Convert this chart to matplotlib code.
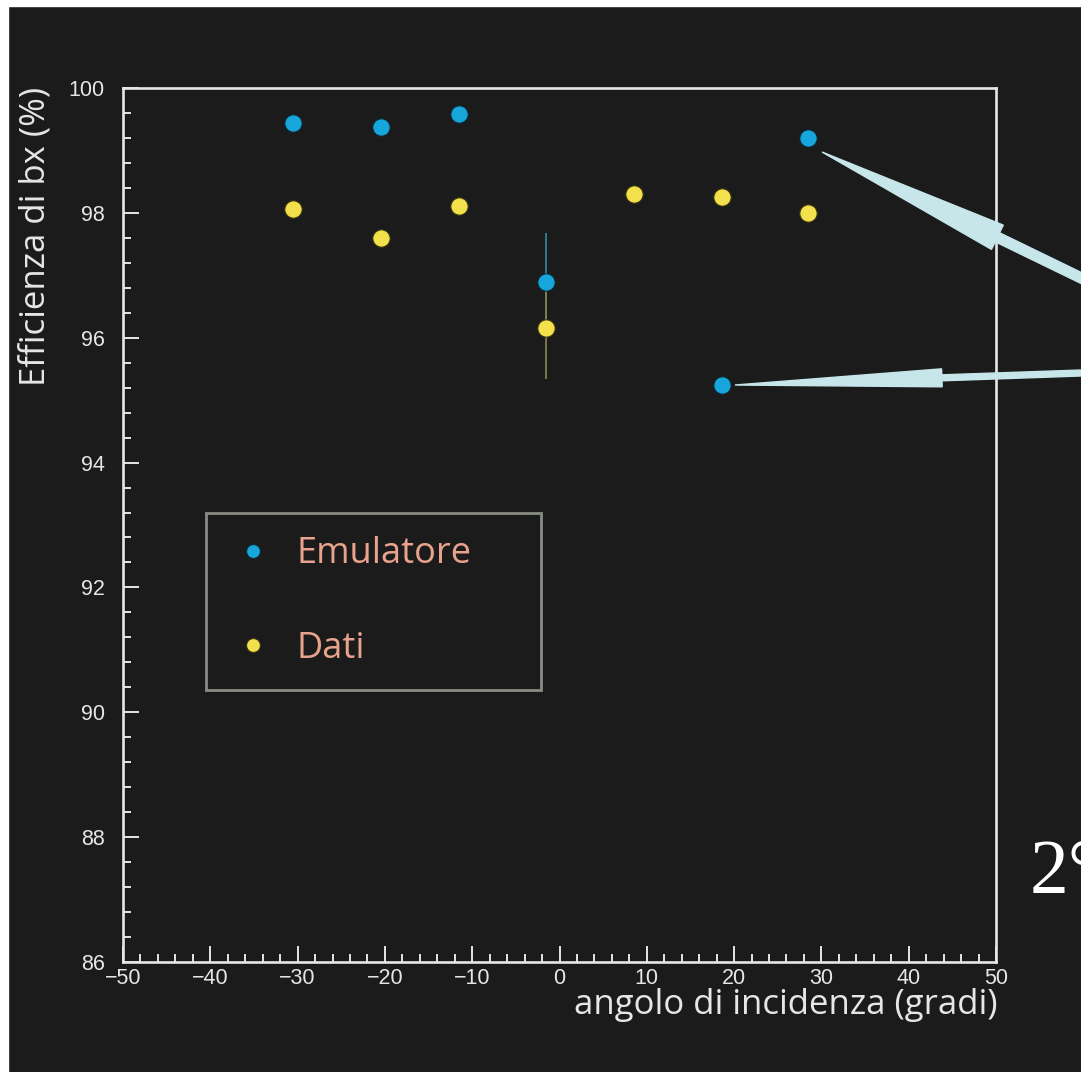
import numpy as np
import matplotlib
matplotlib.use("Agg")
from matplotlib import pyplot as plt
from matplotlib.patches import FancyArrow, Rectangle
from matplotlib.transforms import IdentityTransform
from matplotlib.ticker import MultipleLocator

W, H = 1081, 1072
BG = '#1b1b1b'

# data
ang_emu = [-30.5, -20.5, -11.5, -1.5, 18.6, 28.5]
eff_emu = [99.44, 99.37, 99.58, 96.90, 95.25, 99.20]
err_emu = [0.0, 0.0, 0.0, 0.78, 0.0, 0.0]

ang_dati = [-30.5, -20.5, -11.5, -1.5, 8.5, 18.6, 28.5]
eff_dati = [98.06, 97.59, 98.11, 96.16, 98.30, 98.25, 97.99]
err_dati = [0.0, 0.0, 0.0, 0.82, 0.0, 0.0, 0.0]

xticks = [-50, -40, -30, -20, -10, 0, 10, 20, 30, 40, 50]
yticks = [86, 88, 90, 92, 94, 96, 98, 100]

fig = plt.figure(figsize=(W / 100, H / 100), dpi=100, facecolor=BG)
ax = fig.add_axes([123 / W, 1 - 962 / H, (996 - 123) / W, (962 - 88) / H])
ax.set_facecolor(BG)

ax.set_xlim(-50, 50)
ax.set_ylim(86, 100)
ax.set_xticks(xticks)
ax.set_yticks(yticks)
ax.xaxis.set_minor_locator(MultipleLocator(2))
ax.yaxis.set_minor_locator(MultipleLocator(0.4))

for s in ax.spines.values():
    s.set_color('#e6e6e6')
    s.set_linewidth(1.9)

tickfont = 'Liberation Sans'
ax.tick_params(which='both', direction='in', colors='#e6e6e6', top=False, right=False)
ax.tick_params(which='major', length=11.5, width=1.4, labelsize=15.5)
ax.tick_params(which='minor', length=6, width=1.4)
ax.tick_params(axis='y', which='major', pad=13)
ax.tick_params(axis='x', which='major', pad=4)
for lab in ax.get_xticklabels() + ax.get_yticklabels():
    lab.set_fontfamily(tickfont)
    lab.set_color('#e6e6e6')

# error bars (only the point near 0 has visible ones)
ax.errorbar(ang_emu, eff_emu, yerr=err_emu, fmt='none', ecolor='#2f8294', elinewidth=1.3, zorder=2)
ax.errorbar(ang_dati, eff_dati, yerr=err_dati, fmt='none', ecolor='#7f7f4a', elinewidth=1.3, zorder=2)

ax.plot(ang_emu, eff_emu, 'o', color='#17a6dc', markersize=12.5,
        markeredgecolor='#0d2a35', markeredgewidth=0.8, label='Emulatore', zorder=3)
ax.plot(ang_dati, eff_dati, 'o', color='#f2e04c', markersize=12.5,
        markeredgecolor='#3a3510', markeredgewidth=0.8, label='Dati', zorder=3)

leg = ax.legend(loc='upper left',
                bbox_to_anchor=((206 - 123) / 873, (962 - 513) / 874, (541 - 206) / 873, 0.0),
                mode='expand', frameon=True, fancybox=False, facecolor=BG,
                edgecolor='#a3ab9e', markerscale=0.8, handlelength=1.3,
                handletextpad=0.55, labelspacing=1.62, borderpad=0.65, borderaxespad=0,
                prop={'family': 'Open Sans', 'size': 26})
leg.get_frame().set_linewidth(2.0)
for t in leg.get_texts():
    t.set_color('#e9a28c')

# axis titles
fig.text(36 / W, 1 - 87 / H, 'Efficienza di bx (%)', rotation=90, ha='center', va='top',
         color='#e6e6e6', fontsize=25, family='Open Sans')
fig.text(997 / W, 1 - 1005 / H, 'angolo di incidenza (gradi)', ha='right', va='center',
         color='#e6e6e6', fontsize=25, family='Open Sans')

# callout arrows on the slide
arrow_col = '#c6e6ea'
tr = IdentityTransform()
a1 = FancyArrow(1110, H - 292, 822 - 1110, (H - 152) - (H - 292), width=10, head_width=27,
                head_length=195, length_includes_head=True, color=arrow_col, transform=tr)
a2 = FancyArrow(1110, H - 372, 735 - 1110, (H - 385) - (H - 372), width=6, head_width=18,
                head_length=207, length_includes_head=True, color=arrow_col, transform=tr)
fig.add_artist(a1)
fig.add_artist(a2)

fig.text(1030 / W, 1 - 893 / H, '2°', ha='left', va='baseline', color='white',
         fontsize=56, family='Liberation Serif')

# white slide edge at top and left
fig.add_artist(Rectangle((0, 1 - 6 / H), 1, 6 / H, transform=fig.transFigure,
                         color='white', zorder=10))
fig.add_artist(Rectangle((0, 0), 8 / W, 1, transform=fig.transFigure,
                         color='white', zorder=10))

fig.savefig('out.png', dpi=100, facecolor=BG)
